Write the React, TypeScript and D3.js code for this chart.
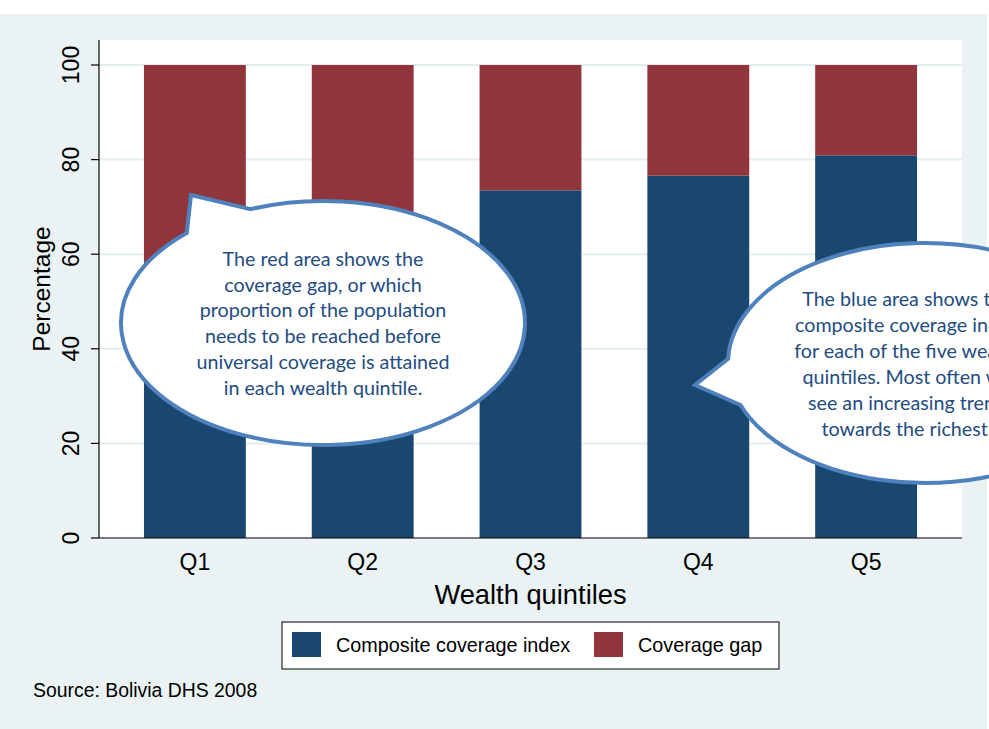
import React from "react";
import * as d3 from "d3";

const categories = ["Q1", "Q2", "Q3", "Q4", "Q5"];
const compositeIndex = [58.4, 65.0, 73.5, 76.6, 80.9];
const coverageGap = [41.6, 35.0, 26.5, 23.4, 19.1];
const yTicks = [0, 20, 40, 60, 80, 100];
const seriesNames = ["Composite coverage index", "Coverage gap"];
const callout1Lines = [
  "The red area shows the",
  "coverage gap, or which",
  "proportion of the population",
  "needs to be reached before",
  "universal coverage is attained",
  "in each wealth quintile.",
];
const callout2Lines = [
  "The blue area shows the",
  "composite coverage index",
  "for each of the five wealth",
  "quintiles. Most often we",
  "see an increasing trend",
  "towards the richest.",
];

const W = 989;
const H = 729;
const BLUE = "#1a476f";
const RED = "#90353b";
const BG = "#eaf2f3";
const ARIAL = "'Liberation Sans', Arial, sans-serif";
const CAL = "Lato, 'Open Sans', sans-serif";

function calloutPath(cx: number, cy: number, rx: number, ry: number, a0: number, a1: number, tip: [number, number], sweep: number) {
  const r = (d: number) => (d * Math.PI) / 180;
  const p0 = [cx + rx * Math.cos(r(a0)), cy + ry * Math.sin(r(a0))];
  const p1 = [cx + rx * Math.cos(r(a1)), cy + ry * Math.sin(r(a1))];
  return `M${p0[0]},${p0[1]} A${rx},${ry} 0 1 ${sweep} ${p1[0]},${p1[1]} L${tip[0]},${tip[1]} Z`;
}

export default function App() {
  const left = 99, right = 962, top = 40, bottom = 538;
  const x = d3.scaleBand<string>().domain(categories).range([left, right]).paddingInner(0.393).paddingOuter(0.268);
  const y = d3.scaleLinear().domain([0, 100]).range([bottom, top + 25]);
  const stacked = d3.stack<any>().keys(["a", "b"])(
    categories.map((c, i) => ({ cat: c, a: compositeIndex[i], b: coverageGap[i] }))
  );
  const colors = [BLUE, RED];
  const bw = x.bandwidth();

  return (
    <div style={{ position: "absolute", left: 0, top: 0 }}>
      <svg width={W} height={H} style={{ display: "block", overflow: "hidden" }}>
        <rect x={0} y={0} width={W} height={H} fill="#ffffff" />
        <rect x={0} y={14} width={987} height={H - 14} fill={BG} />
        <rect x={left} y={top} width={right - left} height={bottom - top} fill="#ffffff" />
        {yTicks.filter((t) => t > 0).map((t) => (
          <line key={t} x1={left} x2={right} y1={y(t)} y2={y(t)} stroke="#e4eef0" strokeWidth={2} />
        ))}
        {stacked.map((s, si) =>
          s.map((d, i) => (
            <rect key={si + "-" + i} x={x(categories[i])} y={y(d[1])} width={bw} height={y(d[0]) - y(d[1])} fill={colors[si]} />
          ))
        )}
        <line x1={left} x2={left} y1={top} y2={bottom} stroke="#000" strokeWidth={1.2} />
        <line x1={left} x2={right} y1={bottom} y2={bottom} stroke="#000" strokeWidth={1.2} />
        {yTicks.map((t) => (
          <g key={t}>
            <line x1={left - 8} x2={left} y1={y(t)} y2={y(t)} stroke="#000" strokeWidth={1.2} />
            <text transform={`translate(${78.5},${y(t)}) rotate(-90)`} textAnchor="middle" fontFamily={ARIAL} fontSize={23} fill="#000">
              {t}
            </text>
          </g>
        ))}
        <text transform={`translate(50,${(top + bottom) / 2}) rotate(-90)`} textAnchor="middle" fontFamily={ARIAL} fontSize={24.5} fill="#000">
          Percentage
        </text>
        {categories.map((c) => (
          <text key={c} x={(x(c) as number) + bw / 2} y={570} textAnchor="middle" fontFamily={ARIAL} fontSize={23} fill="#000">
            {c}
          </text>
        ))}
        <text x={(left + right) / 2} y={604} textAnchor="middle" fontFamily={ARIAL} fontSize={27.3} fill="#000">
          Wealth quintiles
        </text>
        {/* legend */}
        <rect x={282} y={622} width={497} height={47} fill="#fff" stroke="#000" strokeWidth={1} />
        <rect x={292} y={632} width={29} height={25} fill={BLUE} />
        <text x={336} y={652} fontFamily={ARIAL} fontSize={19.8} fill="#000">{seriesNames[0]}</text>
        <rect x={594} y={632} width={29} height={25} fill={RED} />
        <text x={638} y={652} fontFamily={ARIAL} fontSize={19.8} fill="#000">{seriesNames[1]}</text>
        <text x={33} y={697} fontFamily={ARIAL} fontSize={19.4} fill="#000">Source: Bolivia DHS 2008</text>
        {/* callouts */}
        <path d={calloutPath(323, 323, 202, 122, 227.6, 249, [191, 195], 0)} fill="#fff" stroke="#4f81bd" strokeWidth={4} strokeLinejoin="miter" />
        {callout1Lines.map((l, i) => (
          <text key={i} x={323} y={266 + i * 25.7} textAnchor="middle" fontFamily={CAL} fontSize={19.7} fill="#234c80">{l}</text>
        ))}
        <path d={calloutPath(925, 363, 197, 120, 182, 159.5, [695, 385], 1)} fill="#fff" stroke="#4f81bd" strokeWidth={4} strokeLinejoin="miter" />
        {callout2Lines.map((l, i) => (
          <text key={i} x={907} y={306 + i * 26} textAnchor="middle" fontFamily={CAL} fontSize={19.7} fill="#234c80">{l}</text>
        ))}
      </svg>
    </div>
  );
}
